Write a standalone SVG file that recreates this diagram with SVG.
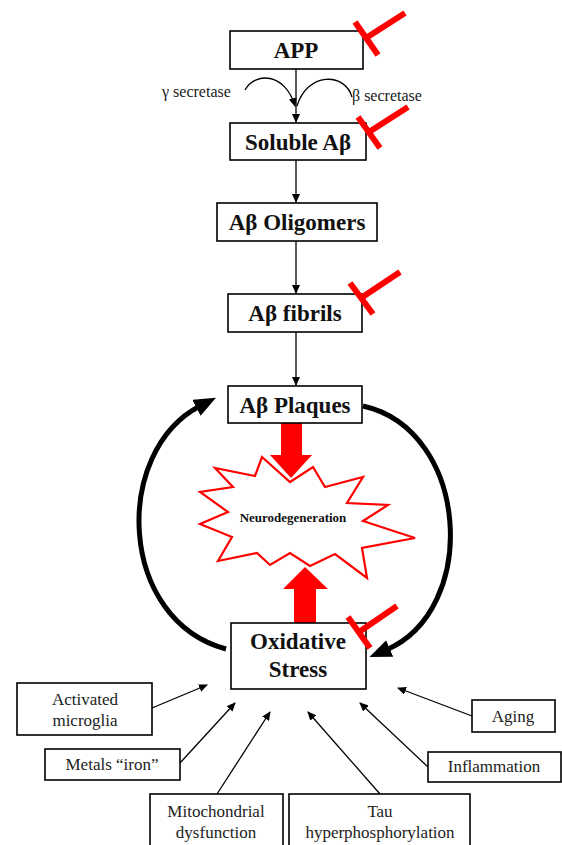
<svg xmlns="http://www.w3.org/2000/svg" width="562" height="845" viewBox="0 0 562 845">
<style>
.box{fill:#fff;stroke:#000;stroke-width:1.6}
.t{font-family:'Liberation Serif','Times New Roman',serif;font-weight:bold;font-size:23px;fill:#111;text-anchor:middle}
.s{font-family:'Liberation Serif','Times New Roman',serif;font-size:17px;fill:#222;text-anchor:middle}
.sec{font-family:'Liberation Serif','Times New Roman',serif;font-size:16px;fill:#222}
.thin{fill:none;stroke:#000;stroke-width:1.3}
.big{fill:none;stroke:#000;stroke-width:5}
.inh{fill:none;stroke:#ff0000;stroke-width:6}
.red{fill:#ff0000}
</style>
<defs>
<marker id="ah" markerUnits="userSpaceOnUse" viewBox="0 0 9 8" markerWidth="9" markerHeight="8" refX="8" refY="4" orient="auto"><path d="M0,0 L9,4 L0,8 z" fill="#000"/></marker>
<marker id="bh" markerUnits="userSpaceOnUse" viewBox="0 0 22 18" markerWidth="22" markerHeight="18" refX="4" refY="9" orient="auto"><path d="M0,0 L22,9 L0,18 z" fill="#000"/></marker>
</defs>

<g id="connectors">
<line class="thin" x1="296" y1="69" x2="296" y2="122" marker-end="url(#ah)"/>
<path class="thin" d="M245,90 C255,72 285,72 295,106" marker-end="url(#ah)" stroke-width="1.8"/>
<path class="thin" d="M297,106 C307,72 345,72 352,97" stroke-width="1.8"/>
<line class="thin" x1="296" y1="160" x2="296" y2="202" marker-end="url(#ah)"/>
<line class="thin" x1="296" y1="241" x2="296" y2="293" marker-end="url(#ah)"/>
<line class="thin" x1="296" y1="332" x2="296" y2="385" marker-end="url(#ah)"/>
<path class="big" d="M226,649 C118,620 112,452 200,406" marker-end="url(#bh)"/>
<path class="big" d="M363,406 C470,430 480,610 386,650" marker-end="url(#bh)"/>
<polygon class="red" points="281,423 302,423 302,455 312,455 291,478 270,455 281,455"/>
<polygon class="red" points="294,623 316,623 316,589 328,589 305,567 283,589 294,589"/>
<line class="thin" x1="152" y1="708" x2="207" y2="685" marker-end="url(#ah)"/>
<line class="thin" x1="180" y1="763" x2="235" y2="703" marker-end="url(#ah)"/>
<line class="thin" x1="217" y1="794" x2="270" y2="712" marker-end="url(#ah)"/>
<line class="thin" x1="380" y1="794" x2="308" y2="712" marker-end="url(#ah)"/>
<line class="thin" x1="428" y1="767" x2="360" y2="703" marker-end="url(#ah)"/>
<line class="thin" x1="472" y1="716" x2="398" y2="688" marker-end="url(#ah)"/>
</g>

<g id="labels">
<text class="sec" x="162" y="97">γ secretase</text>
<text class="sec" x="352" y="101">β secretase</text>
</g>

<g id="app"><rect class="box" x="230" y="31" width="133" height="38"/><text class="t" x="296" y="58">APP</text></g>
<g id="soluble"><rect class="box" x="230" y="123" width="136" height="37"/><text class="t" x="298" y="150">Soluble Aβ</text></g>
<g id="oligomers"><rect class="box" x="217" y="203" width="160" height="38"/><text class="t" x="297" y="230">Aβ Oligomers</text></g>
<g id="fibrils"><rect class="box" x="228" y="294" width="134" height="38"/><text class="t" x="295" y="321">Aβ fibrils</text></g>
<g id="plaques"><rect class="box" x="228" y="386" width="134" height="37"/><text class="t" x="295" y="413">Aβ Plaques</text></g>

<g id="neurodegeneration">
<polygon points="262,457 290,482 313,467 325,487 363,477 347,503 388,505 363,521 415,538 362,548 367,578 335,554 310,566 290,553 270,565 257,553 218,561 232,537 200,524 228,512 200,492 233,487 215,468 255,476" fill="#fff" stroke="#ff0000" stroke-width="2.2" stroke-linejoin="miter"/>
<text x="293" y="522" font-family="'Liberation Serif', 'Times New Roman', serif" font-weight="bold" font-size="13" fill="#111" text-anchor="middle">Neurodegeneration</text>
</g>

<g id="oxidative"><rect class="box" x="231" y="623" width="135" height="66"/><text class="t" x="298" y="649">Oxidative</text><text class="t" x="298" y="677">Stress</text></g>

<g id="inhibitors">
<line class="inh" x1="355" y1="22" x2="378" y2="55"/><line class="inh" x1="366" y1="38" x2="405" y2="13"/>
<line class="inh" x1="358" y1="117" x2="380" y2="148"/><line class="inh" x1="369" y1="132" x2="408" y2="107"/>
<line class="inh" x1="350" y1="283" x2="373" y2="314"/><line class="inh" x1="361" y1="298" x2="400" y2="272"/>
<line class="inh" x1="348" y1="617" x2="370" y2="648"/><line class="inh" x1="359" y1="632" x2="397" y2="606"/>
</g>

<g id="microglia"><rect class="box" x="17" y="683" width="135" height="52"/><text class="s" x="85" y="705">Activated</text><text class="s" x="85" y="726">microglia</text></g>
<g id="metals"><rect class="box" x="45" y="749" width="135" height="31"/><text class="s" x="112" y="770">Metals “iron”</text></g>
<g id="mito"><rect class="box" x="150" y="794" width="133" height="56"/><text class="s" x="216" y="817">Mitochondrial</text><text class="s" x="216" y="838">dysfunction</text></g>
<g id="tau"><rect class="box" x="289" y="794" width="181" height="56"/><text class="s" x="380" y="817">Tau</text><text class="s" x="380" y="838">hyperphosphorylation</text></g>
<g id="inflammation"><rect class="box" x="428" y="752" width="133" height="30"/><text class="s" x="494" y="772">Inflammation</text></g>
<g id="aging"><rect class="box" x="472" y="700" width="83" height="32"/><text class="s" x="513" y="722">Aging</text></g>
</svg>
